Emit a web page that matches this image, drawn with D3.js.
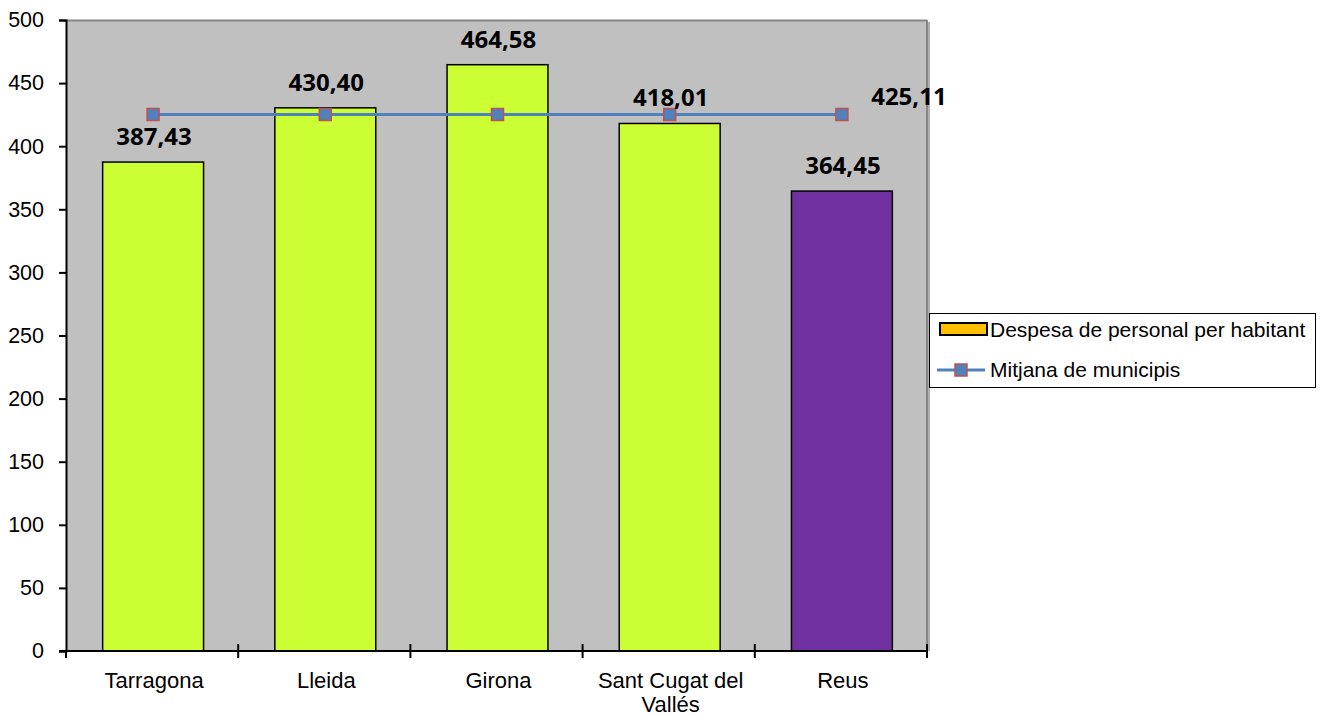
<!DOCTYPE html>
<html><head><meta charset="utf-8">
<script src="https://cdn.jsdelivr.net/npm/d3@7"></script>
<style>body{margin:0;background:#fff}svg{display:block}</style>
</head><body>
<svg id="c" width="1322" height="716"></svg>
<script>
const categories = ["Tarragona", "Lleida", "Girona", "Sant Cugat del|Vallés", "Reus"];
const despesa = [387.43, 430.40, 464.58, 418.01, 364.45];
const mitjana = [425.11, 425.11, 425.11, 425.11, 425.11];
const barColors = ["#ccff33", "#ccff33", "#ccff33", "#ccff33", "#7030a0"];
const yTicks = [0, 50, 100, 150, 200, 250, 300, 350, 400, 450, 500];
const seriesNames = ["Despesa de personal per habitant", "Mitjana de municipis"];
const fmt = v => v.toFixed(2).replace(".", ",");

const svg = d3.select("#c");
const L = 66, R = 927, T = 20, B = 651;
const x = d3.scaleBand().domain(categories).range([L, R]).paddingInner(0.414).paddingOuter(0.207);
const xb = d3.scaleBand().domain(categories).range([L, R]);
const y = d3.scaleLinear().domain([0, 500]).range([B, T]);

// plot area
svg.append("rect").attr("x", L).attr("y", T).attr("width", R - L).attr("height", B - T).attr("fill", "#c0c0c0");
svg.append("line").attr("x1", L).attr("x2", R).attr("y1", T + 0.5).attr("y2", T + 0.5).attr("stroke", "#868686").attr("stroke-width", 2);
svg.append("line").attr("x1", R).attr("x2", R).attr("y1", T).attr("y2", B).attr("stroke", "#868686").attr("stroke-width", 2);
svg.append("line").attr("x1", R + 2).attr("x2", R + 2).attr("y1", T + 2).attr("y2", B).attr("stroke", "#b0b0b0").attr("stroke-width", 2);

// bars
svg.selectAll("rect.bar").data(despesa).join("rect").attr("class", "bar")
  .attr("x", (d, i) => x(categories[i]) + 1).attr("width", x.bandwidth())
  .attr("y", d => y(d)).attr("height", d => B - y(d))
  .attr("fill", (d, i) => barColors[i]).attr("stroke", "#000").attr("stroke-width", 1.5);

// axes
const yAxis = svg.append("g").attr("transform", `translate(${L},0)`)
  .call(d3.axisLeft(y).tickValues(yTicks).tickSize(7).tickPadding(15).tickFormat(d3.format("d")));
yAxis.select(".domain").attr("stroke", "#000").attr("stroke-width", 2);
yAxis.selectAll(".tick line").attr("stroke", "#000").attr("stroke-width", 2);
yAxis.selectAll("text").attr("font-family", "Liberation Sans, Arial, sans-serif").attr("font-size", 21.5).attr("fill", "#000");

svg.append("line").attr("x1", L - 7).attr("x2", R + 1).attr("y1", B).attr("y2", B).attr("stroke", "#000").attr("stroke-width", 2);
const bounds = categories.map(c => xb(c)).concat([R]);
svg.selectAll("line.xt").data(bounds).join("line").attr("class", "xt")
  .attr("x1", d => d).attr("x2", d => d).attr("y1", (d, i) => i === 0 ? B : B - 7).attr("y2", B + 7)
  .attr("stroke", "#000").attr("stroke-width", 2);
const xl = svg.selectAll("text.xl").data(categories).join("text").attr("class", "xl")
  .attr("x", d => xb(d) + xb.bandwidth() / 2 + 2).attr("y", 688)
  .attr("text-anchor", "middle").attr("font-family", "Liberation Sans, Arial, sans-serif").attr("font-size", 22).attr("fill", "#000");
xl.each(function(d) {
  const parts = d.split("|");
  d3.select(this).selectAll("tspan").data(parts).join("tspan")
    .attr("x", xb(d) + xb.bandwidth() / 2 + 2).attr("dy", (p, i) => i === 0 ? 0 : 24).text(p => p);
});

// mean line
const cx = c => xb(c) + xb.bandwidth() / 2 + 1;
svg.append("path").datum(mitjana)
  .attr("d", d3.line().x((d, i) => cx(categories[i])).y(d => y(d)))
  .attr("fill", "none").attr("stroke", "#4f81bd").attr("stroke-width", 3);
svg.selectAll("rect.mk").data(mitjana).join("rect").attr("class", "mk")
  .attr("x", (d, i) => cx(categories[i]) - 6).attr("y", d => y(d) - 6)
  .attr("width", 12).attr("height", 12).attr("fill", "#4f81bd").attr("stroke", "#c0504d").attr("stroke-width", 1.5);

// data labels
const lblFont = "Open Sans, Liberation Sans, sans-serif";
svg.selectAll("text.bl").data(despesa).join("text").attr("class", "bl")
  .attr("x", (d, i) => cx(categories[i]) + 1).attr("y", d => y(d) - 17)
  .attr("text-anchor", "middle").attr("font-family", lblFont).attr("font-weight", "bold").attr("font-size", 24).attr("fill", "#000")
  .text(d => fmt(d));
svg.append("text").attr("x", cx(categories[4]) + 67).attr("y", y(mitjana[4]) - 10)
  .attr("text-anchor", "middle").attr("font-family", lblFont).attr("font-weight", "bold").attr("font-size", 24).attr("fill", "#000")
  .text(fmt(mitjana[4]));

// legend
const lg = svg.append("g");
lg.append("rect").attr("x", 929.5).attr("y", 313.5).attr("width", 386).attr("height", 74).attr("fill", "#fff").attr("stroke", "#000").attr("stroke-width", 1);
lg.append("rect").attr("x", 940).attr("y", 323).attr("width", 47).attr("height", 12).attr("fill", "#ffc000").attr("stroke", "#000").attr("stroke-width", 2);
lg.append("line").attr("x1", 937).attr("x2", 985).attr("y1", 370).attr("y2", 370).attr("stroke", "#4f81bd").attr("stroke-width", 3);
lg.append("rect").attr("x", 955).attr("y", 364).attr("width", 12).attr("height", 12).attr("fill", "#4f81bd").attr("stroke", "#c0504d").attr("stroke-width", 1.5);
lg.selectAll("text").data(seriesNames).join("text")
  .attr("x", 990).attr("y", (d, i) => 337 + i * 40)
  .attr("font-family", "Liberation Sans, Arial, sans-serif").attr("font-size", 21).attr("fill", "#000").text(d => d);
</script>
</body></html>
